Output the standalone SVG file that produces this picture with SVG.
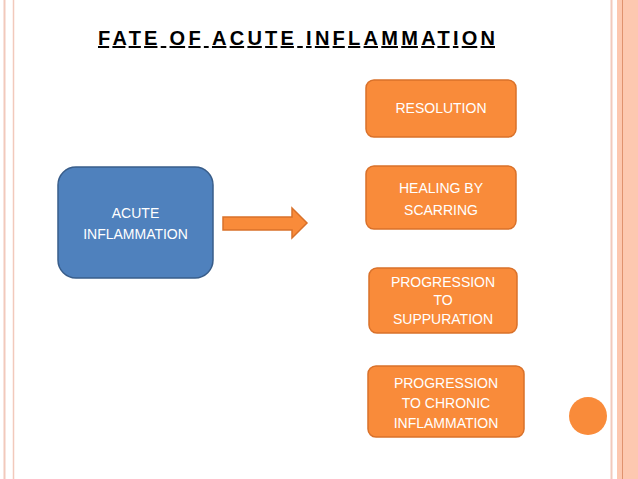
<svg xmlns="http://www.w3.org/2000/svg" width="638" height="479" viewBox="0 0 638 479">
<style>
.o{fill:#F98B3A;stroke:#D9712A;stroke-width:1.5}
.t{font-family:"Liberation Sans",Arial,sans-serif;font-size:14px;fill:#fff;text-anchor:middle}
</style>
<rect width="638" height="479" fill="#fff"/>
<g id="border">
<line x1="4.5" y1="0" x2="4.5" y2="479" stroke="#F2C9BC" stroke-width="2"/>
<line x1="13.5" y1="0" x2="13.5" y2="479" stroke="#F2C9BC" stroke-width="1.5"/>
<line x1="611.5" y1="0" x2="611.5" y2="479" stroke="#F2C9BC" stroke-width="2"/>
<rect x="617" y="0" width="21" height="479" fill="#FDC8B0"/>
<line x1="622.5" y1="0" x2="622.5" y2="479" stroke="#E0926E" stroke-width="1"/>
<circle cx="588" cy="416" r="19" fill="#F98B3A"/>
</g>
<text x="98" y="45" font-family="Liberation Sans,Arial,sans-serif" font-size="20" font-weight="bold" text-decoration="underline" fill="#000" textLength="397">FATE OF ACUTE INFLAMMATION</text>
<g id="acute">
<rect x="58" y="167" width="155" height="111" rx="18" fill="#4F81BD" stroke="#385D8A" stroke-width="1.5"/>
<text class="t" x="135.5" y="218" font-family="Liberation Sans,Arial,sans-serif" font-size="13">ACUTE</text>
<text class="t" x="135.5" y="239" font-size="13">INFLAMMATION</text>
</g>
<g id="connectors">
<polygon class="o" points="223,217 292,217 292,208 307,223 292,238 292,230 223,230"/>
</g>
<g id="resolution">
<rect class="o" x="366" y="80" width="150" height="57" rx="8"/>
<text class="t" x="441" y="113">RESOLUTION</text>
</g>
<g id="healing">
<rect class="o" x="366" y="166" width="150" height="63" rx="8"/>
<text class="t" x="441" y="193">HEALING BY</text>
<text class="t" x="441" y="215">SCARRING</text>
</g>
<g id="suppuration">
<rect class="o" x="369" y="268" width="148" height="65" rx="8"/>
<text class="t" x="443" y="287">PROGRESSION</text>
<text class="t" x="443" y="305">TO</text>
<text class="t" x="443" y="324">SUPPURATION</text>
</g>
<g id="chronic">
<rect class="o" x="368" y="366" width="156" height="71" rx="8"/>
<text class="t" x="446" y="388">PROGRESSION</text>
<text class="t" x="446" y="408">TO CHRONIC</text>
<text class="t" x="446" y="428">INFLAMMATION</text>
</g>
</svg>
